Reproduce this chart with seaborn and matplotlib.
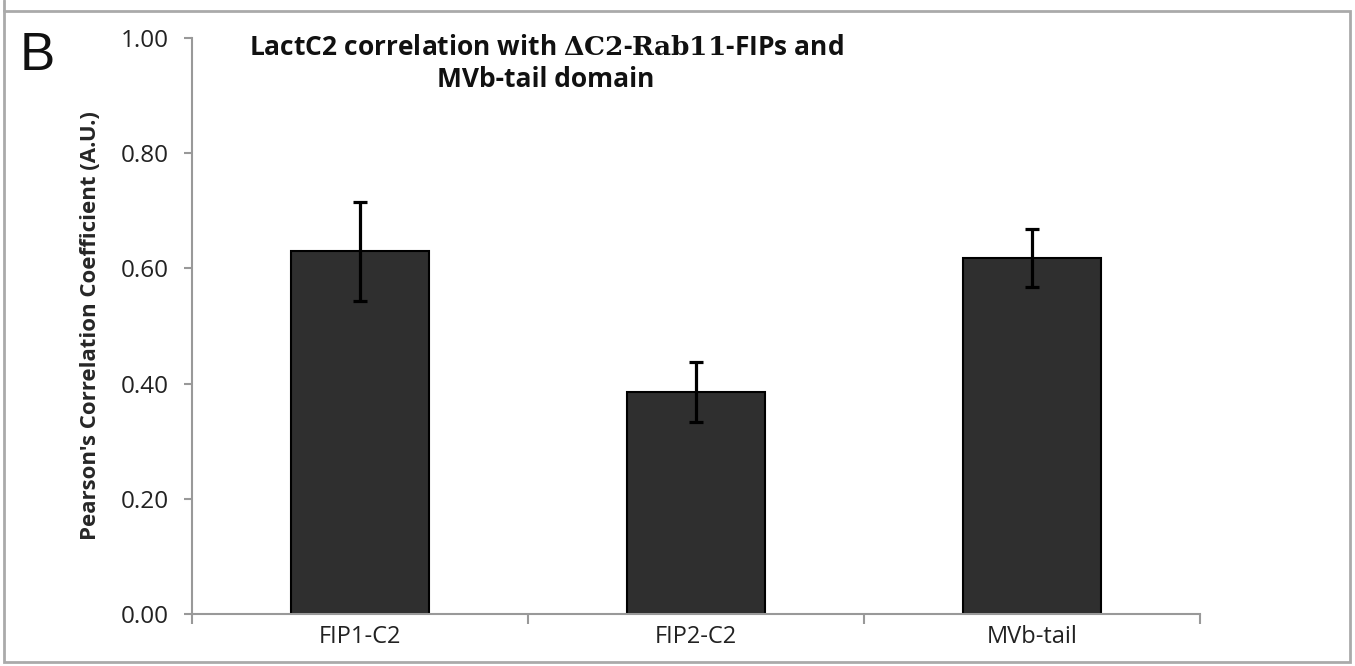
import matplotlib
matplotlib.use("Agg")
import matplotlib.pyplot as plt
import seaborn as sns
import pandas as pd
from matplotlib.patches import Rectangle
from matplotlib.lines import Line2D

categories = ["FIP1-C2", "FIP2-C2", "MVb-tail"]
values = [0.630, 0.385, 0.618]
errors = [0.086, 0.052, 0.050]
yticks = [0.0, 0.2, 0.4, 0.6, 0.8, 1.0]

sns.set_theme(style="white")
plt.rcParams['font.family'] = ['Open Sans', 'DejaVu Sans']
plt.rcParams['mathtext.fontset'] = 'custom'
plt.rcParams['mathtext.bf'] = 'DejaVu Serif:bold'
plt.rcParams['mathtext.rm'] = 'DejaVu Serif'

df = pd.DataFrame({"cat": categories, "val": values})

fig = plt.figure(figsize=(13.55, 6.66), dpi=100)
ax = fig.add_axes([192/1355, 1-614/666, (1200-192)/1355, (614-38)/666])

sns.barplot(data=df, x="cat", y="val", ax=ax, color="#2f2f2f", width=0.41,
            edgecolor="black", linewidth=1.5, errorbar=None, saturation=1)
ax.errorbar(range(len(categories)), values, yerr=errors, fmt="none",
            ecolor="black", elinewidth=2.3, capsize=5, capthick=2.3, zorder=5)

ax.set_xlim(-0.5, 2.5)
ax.set_ylim(0, 1.0)
ax.set_yticks(yticks)
ax.set_yticklabels([f"{t:.2f}" for t in yticks], fontsize=17.5, color="#222222")
ax.set_xticks(range(len(categories)))
ax.set_xticklabels(categories, fontsize=17, color="#222222")
ax.set_xticks([-0.5, 0.5, 1.5, 2.5], minor=True)
ax.tick_params(axis="x", which="major", length=0, pad=8)
ax.tick_params(axis="x", which="minor", length=7, width=1.5, color="#999999", direction="out", bottom=True)
ax.tick_params(axis="y", which="major", length=6, width=1.5, color="#999999", direction="out", left=True, pad=11)
ax.set_xlabel("")
ax.set_ylabel("Pearson's Correlation Coefficient (A.U.)", fontsize=16, fontweight="bold", labelpad=14)

for side in ["top", "right"]:
    ax.spines[side].set_visible(False)
for side in ["left", "bottom"]:
    ax.spines[side].set_color("#999999")
    ax.spines[side].set_linewidth(1.5)

fig.text(546/1355, 1-34/666,
         "LactC2 correlation with $\\mathbf{\\Delta C2}$-$\\mathbf{Rab11}$-FIPs and\nMVb-tail domain",
         ha="center", va="top", fontsize=19, fontweight="bold", linespacing=1.25, color="#111111")

fig.text(20/1355, 1-70/666, "B", fontsize=38, family="Liberation Sans", ha="left", va="baseline", color="#111111")

# outer panel frame
fig.add_artist(Rectangle((4/1355, 4/666), (1350-4)/1355, (655-4)/666, transform=fig.transFigure,
                         fill=False, edgecolor="#aaaaaa", linewidth=2))
fig.add_artist(Line2D([4/1355, 4/1355], [1-11/666, 1.0], transform=fig.transFigure, color="#aaaaaa", linewidth=2))

fig.savefig("out.png", dpi=100)
